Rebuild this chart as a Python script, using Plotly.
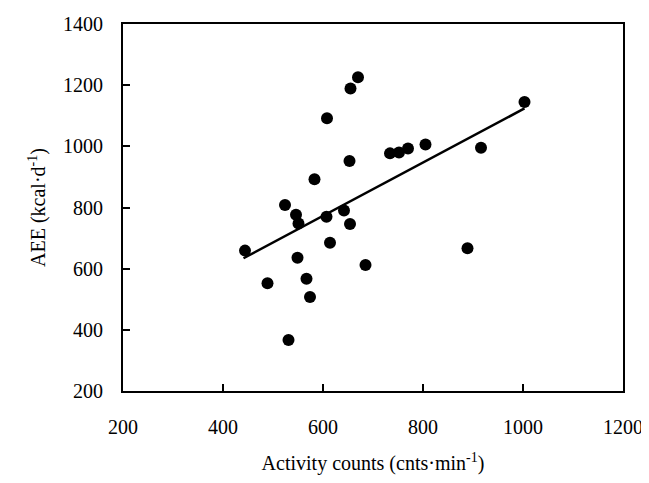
import plotly.graph_objects as go

# Data
activity_counts = [670, 655, 608, 653, 583, 524, 546, 551, 607, 642, 654, 614, 444,
                   549, 489, 567, 574, 531, 1003, 916, 805, 770, 752, 734, 889, 685]
aee = [1226, 1189, 1092, 952, 892, 808, 776, 748, 770, 790, 746, 685, 659,
       636, 552, 567, 507, 367, 1145, 995, 1006, 993, 980, 977, 667, 612]

fit_x = [441, 1003]
fit_y = [634, 1124]

x_ticks = [200, 400, 600, 800, 1000, 1200]
y_ticks = [200, 400, 600, 800, 1000, 1200, 1400]

FONT = "Liberation Serif, Times New Roman, serif"

fig = go.Figure()
fig.add_trace(go.Scatter(x=fit_x, y=fit_y, mode="lines",
                         line=dict(color="black", width=2.5), showlegend=False))
fig.add_trace(go.Scatter(x=activity_counts, y=aee, mode="markers",
                         marker=dict(color="black", size=12, line=dict(width=0)),
                         showlegend=False))

# The page body adds an 8px margin; size the figure so the page fits the window
fig.update_layout(
    width=641, height=467,
    margin=dict(l=115, r=26, t=16, b=84),
    paper_bgcolor="white", plot_bgcolor="white",
    font=dict(family=FONT, size=20, color="black"),
)
fig.update_xaxes(
    range=[200, 1200], tickvals=x_ticks, ticktext=[str(v) for v in x_ticks],
    showgrid=False, zeroline=False, showline=True, linecolor="black", linewidth=2,
    mirror=True, ticks="inside", ticklen=7, tickwidth=1.5, tickcolor="black",
    ticklabelstandoff=17, automargin=False, ticklabeloverflow="allow",
    title=dict(text="Activity counts (cnts·min<sup>-1</sup>)", standoff=27,
               font=dict(family=FONT, size=20)),
)
fig.update_yaxes(
    range=[200, 1400], tickvals=y_ticks, ticktext=[str(v) for v in y_ticks],
    showgrid=False, zeroline=False, showline=True, linecolor="black", linewidth=2,
    mirror=True, ticks="inside", ticklen=7, tickwidth=1.5, tickcolor="black",
    ticklabelstandoff=14, automargin=False, ticklabeloverflow="allow",
    title=dict(text="AEE (kcal·d<sup>-1</sup>)", standoff=12,
               font=dict(family=FONT, size=20)),
)

fig.write_html("out.html")
